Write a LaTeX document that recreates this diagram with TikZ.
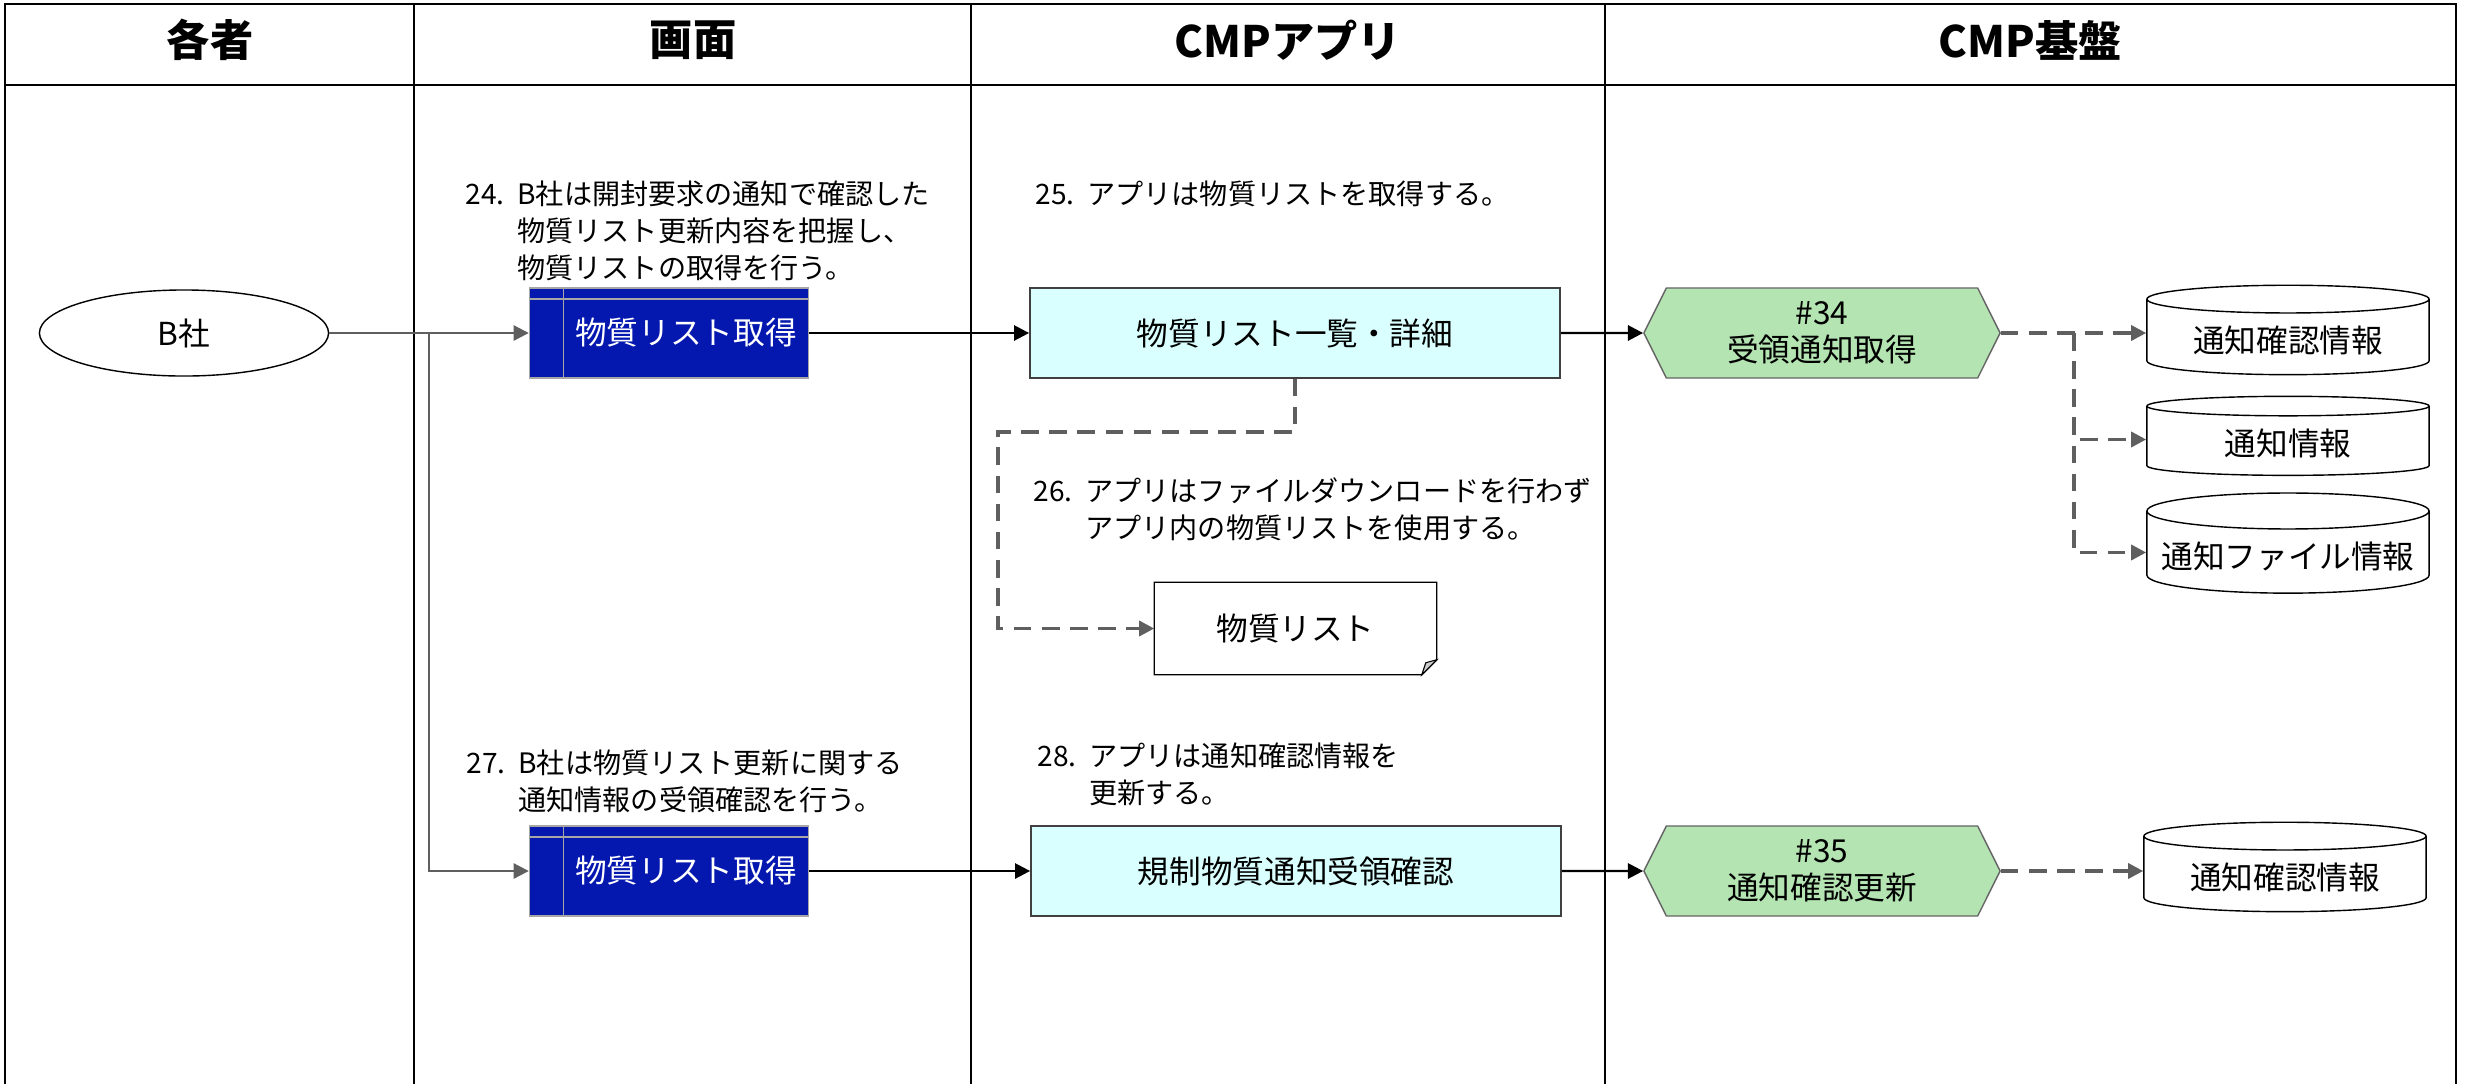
\documentclass[tikz,border=0pt]{standalone}
\usepackage{fontspec}
\setmainfont{Noto Sans CJK JP}
\usepackage{tikz}
\usetikzlibrary{arrows.meta, shapes.geometric, shapes.symbols, calc}

\definecolor{scrblue}{RGB}{4,24,175}
\definecolor{appcyan}{RGB}{217,255,255}
\definecolor{apigreen}{RGB}{180,228,178}
\definecolor{lnkgray}{RGB}{95,95,95}

\begin{document}
\begin{tikzpicture}[x=0.01cm, y=-0.01cm, font=\fontsize{9pt}{11pt}\selectfont,
  tbl/.style={line width=0.8pt},
  hdr/.style={font=\fontsize{12.3pt}{14pt}\selectfont\bfseries},
  ann/.style={anchor=base west, inner sep=0pt, font=\fontsize{8pt}{10.6pt}\selectfont},
  actor/.style={draw, ellipse, minimum width=2.89cm, minimum height=0.86cm, inner sep=0pt, line width=0.4pt},
  scr/.style={draw=gray!70, fill=scrblue, text=white, minimum width=2.78cm, minimum height=0.9cm, line width=0.4pt,
    execute at begin node={\hspace*{0.34cm}},
    path picture={\draw[gray!70, line width=0.3pt]
      ($(path picture bounding box.north west)+(34,0)$) -- ($(path picture bounding box.south west)+(34,0)$)
      ($(path picture bounding box.north west)+(0,11)$) -- ($(path picture bounding box.north east)+(0,11)$);}},
  app/.style={draw=black!75, fill=appcyan, minimum width=5.3cm, minimum height=0.9cm, line width=0.4pt},
  api/.style={draw=black!60, fill=apigreen, signal, signal to=east and west, signal pointer angle=127,
    minimum width=3.56cm, minimum height=0.9cm, align=center, inner sep=1pt, font=\fontsize{9pt}{10.6pt}\selectfont},
  db/.style={draw, cylinder, shape border rotate=90, aspect=0.13, minimum width=2.82cm, minimum height=0.79cm, line width=0.4pt},
  dcm/.style={minimum width=2.81cm, minimum height=0.91cm, inner sep=0pt},
  flow/.style={-{Triangle[length=4.3pt, width=4.3pt]}, line width=0.7pt},
  trg/.style={-{Triangle[length=4.3pt, width=4.3pt]}, lnkgray, line width=0.6pt},
  dat/.style={-{Triangle[length=4.3pt, width=4.3pt]}, lnkgray, line width=0.95pt, dash pattern=on 5pt off 3pt}]
\useasboundingbox (0,0) rectangle (2465,1084);
\draw[tbl] (5,1084) -- (5,4) -- (2456,4) -- (2456,1084);
\draw[tbl] (5,85) -- (2456,85);
\foreach \cx in {414,971,1605} \draw[tbl] (\cx,4) -- (\cx,1084);

\node[hdr] (hA) at (210,40) {各者};
\node[hdr] (hB) at (693,40) {画面};
\node[hdr] (hC) at (1288,40) {CMPアプリ};
\node[hdr] (hD) at (2030,40) {CMP基盤};

\node[actor] (bsha) at (184,333) {B社};
\node[scr] (scr1) at (669,333) {物質リスト取得};
\node[scr] (scr2) at (669,871) {物質リスト取得};
\node[app] (app1) at (1295,333) {物質リスト一覧・詳細};
\node[app] (app2) at (1296,871) {規制物質通知受領確認};
\node[api] (api1) at (1822,333) {\#34\\受領通知取得};
\node[api] (api2) at (1822,871) {\#35\\通知確認更新};
\node[db] (db1) at (2288,340) {通知確認情報};
\node[db] (db2) at (2288,443) {通知情報};
\node[db] (db3) at (2288,556) {通知ファイル情報};
\node[db] (db4) at (2285,877) {通知確認情報};
\node[dcm] (lst) at (1295.5,628.5) {物質リスト};
\draw[line width=0.4pt] (lst.north west) -- (lst.north east) -- ($(lst.south east)+(0,-15)$)
  -- ($(lst.south east)+(-15,0)$) -- (lst.south west) -- cycle;
\draw[line width=0.3pt, fill=gray!40] ($(lst.south east)+(0,-15)$) -- ($(lst.south east)+(-15,0)$)
  -- ($(lst.south east)+(-11,-12)$) -- cycle;

\node[ann] (t24) at (465,204) {\begin{tabular}[t]{@{}l@{\hspace{0.45em}}l@{}}24. & B社は開封要求の通知で確認した\\ & 物質リスト更新内容を把握し、\\ & 物質リストの取得を行う。\end{tabular}};
\node[ann] (t25) at (1035,204) {\begin{tabular}[t]{@{}l@{\hspace{0.45em}}l@{}}25. & アプリは物質リストを取得する。\end{tabular}};
\node[ann] (t26) at (1033,501) {\begin{tabular}[t]{@{}l@{\hspace{0.45em}}l@{}}26. & アプリはファイルダウンロードを行わず\\ & アプリ内の物質リストを使用する。\end{tabular}};
\node[ann] (t27) at (466,773) {\begin{tabular}[t]{@{}l@{\hspace{0.45em}}l@{}}27. & B社は物質リスト更新に関する\\ & 通知情報の受領確認を行う。\end{tabular}};
\node[ann] (t28) at (1037,766) {\begin{tabular}[t]{@{}l@{\hspace{0.45em}}l@{}}28. & アプリは通知確認情報を\\ & 更新する。\end{tabular}};

\coordinate (jB) at (429,333);
\coordinate (jD) at (2074,333);
\coordinate (dL) at (998,432);
\draw[trg] (bsha.east) -- (scr1.west);
\draw[trg] (jB) |- (scr2.west);
\draw[flow] (scr1) -- (app1);
\draw[flow] (app1) -- (api1);
\draw[flow] (scr2) -- (app2);
\draw[flow] (app2) -- (api2);
\draw[dat] (api1.east) -- (api1.east -| db1.west);
\draw[dat] (jD) |- ([yshift=1pt]db2.west);
\draw[dat] (jD) |- ([yshift=1pt]db3.west);
\draw[dat] (app1.south) |- (dL) |- (lst.west);
\draw[dat] (api2.east) -- (api2.east -| db4.west);
\end{tikzpicture}
\end{document}
